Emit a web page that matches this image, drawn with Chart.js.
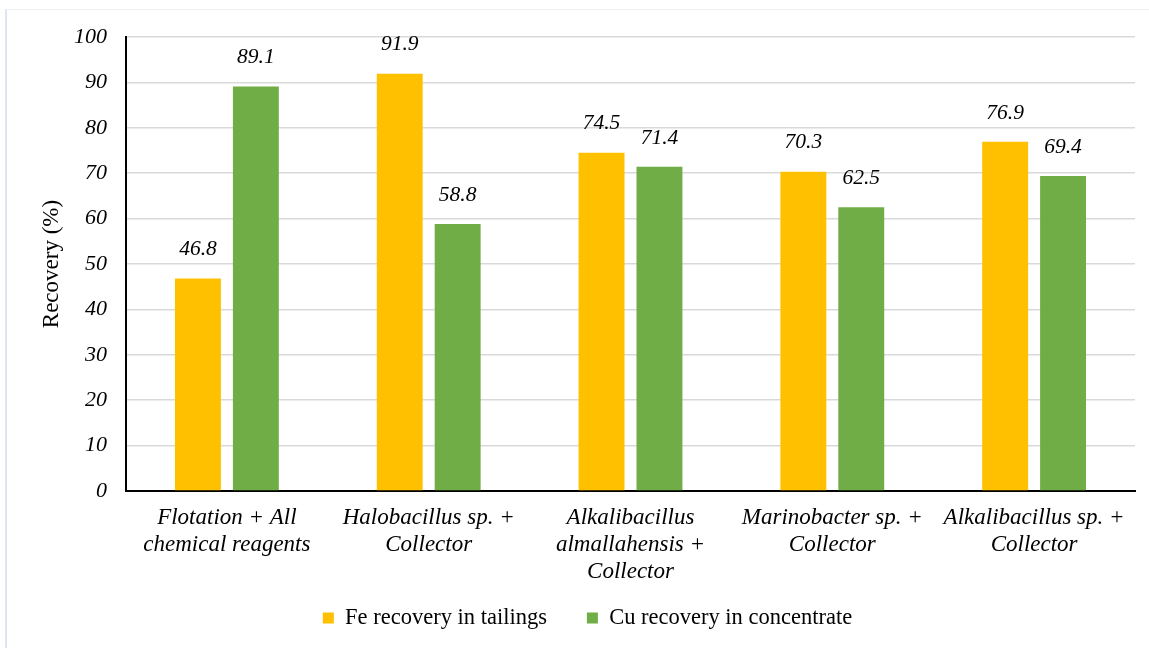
<!DOCTYPE html>
<html>
<head>
<meta charset="utf-8">
<script src="https://cdn.jsdelivr.net/npm/chart.js@4/dist/chart.umd.min.js"></script>
<style>
  html, body { margin: 0; padding: 0; background: #fff; }
  #wrap { position: relative; width: 1149px; height: 648px; }
  #frame { position: absolute; left: 5px; top: 9px; right: 0; bottom: 0;
           border-left: 2px solid #dde4f2; border-top: 1px solid #eef0f6; }
  canvas { position: absolute; left: 0; top: 0; }
</style>
</head>
<body>
<div id="wrap">
  <div id="frame"></div>
  <canvas id="chart" width="1149" height="648"></canvas>
</div>
<script>
const categories = [
  ['Flotation + All', 'chemical reagents'],
  ['Halobacillus sp. +', 'Collector'],
  ['Alkalibacillus', 'almallahensis +', 'Collector'],
  ['Marinobacter sp. +', 'Collector'],
  ['Alkalibacillus sp. +', 'Collector']
];
const feRecovery = [46.8, 91.9, 74.5, 70.3, 76.9];
const cuRecovery = [89.1, 58.8, 71.4, 62.5, 69.4];
const seriesNames = ['Fe recovery in tailings', 'Cu recovery in concentrate'];
const yTicks = [0, 10, 20, 30, 40, 50, 60, 70, 80, 90, 100];

const serif = "'Liberation Serif', 'Times New Roman', serif";

// value labels above bars
const barLabels = {
  id: 'barLabels',
  afterDatasetsDraw(chart) {
    const ctx = chart.ctx;
    ctx.save();
    ctx.font = 'italic 21.5px ' + serif;
    ctx.fillStyle = '#000';
    ctx.textAlign = 'center';
    ctx.textBaseline = 'middle';
    chart.data.datasets.forEach((ds, i) => {
      chart.getDatasetMeta(i).data.forEach((bar, j) => {
        ctx.fillText(ds.data[j].toFixed(1), bar.x, bar.y - 29);
      });
    });
    ctx.restore();
  }
};

// let the 3-line x labels run into the legend's top padding, nudge legend right
const nudge = {
  id: 'nudge',
  afterLayout(chart) {
    chart.scales.x.bottom = chart.legend.bottom;
    chart.legend.left += 2;
    chart.legend.right += 2;
  }
};

new Chart(document.getElementById('chart'), {
  type: 'bar',
  data: {
    labels: categories,
    datasets: [
      { label: seriesNames[0], data: feRecovery, backgroundColor: '#FFC000',
        categoryPercentage: 0.574, barPercentage: 0.793 },
      { label: seriesNames[1], data: cuRecovery, backgroundColor: '#70AD47',
        categoryPercentage: 0.574, barPercentage: 0.793 }
    ]
  },
  options: {
    responsive: false,
    animation: false,
    layout: { padding: { left: 36, right: 14, top: 37, bottom: 8.75 } },
    plugins: {
      tooltip: { enabled: false },
      legend: {
        position: 'bottom',
        labels: {
          boxWidth: 11, boxHeight: 11, padding: 40,
          color: '#000',
          font: { family: serif, size: 22.5 }
        }
      }
    },
    scales: {
      x: {
        grid: { display: false },
        border: { color: '#000', width: 2 },
        ticks: {
          color: '#000', padding: 6, maxRotation: 0, autoSkip: false,
          font: { family: serif, size: 23, style: 'italic', lineHeight: 1.16 }
        },
        afterFit(scale) { scale.height = 75.75; }
      },
      y: {
        min: 0, max: 100,
        afterBuildTicks(scale) { scale.ticks = yTicks.map(v => ({ value: v })); },
        grid: { color: '#d9d9d9', lineWidth: 1.5, drawTicks: false },
        border: { color: '#000', width: 2 },
        ticks: {
          color: '#000', padding: 19,
          font: { family: serif, size: 22, style: 'italic' }
        },
        title: {
          display: true, text: 'Recovery (%)', color: '#000',
          padding: { top: 2, bottom: 0 },
          font: { family: serif, size: 23 }
        },
        afterFit(scale) { scale.width = 90; }
      }
    }
  },
  plugins: [barLabels, nudge]
});
</script>
</body>
</html>
